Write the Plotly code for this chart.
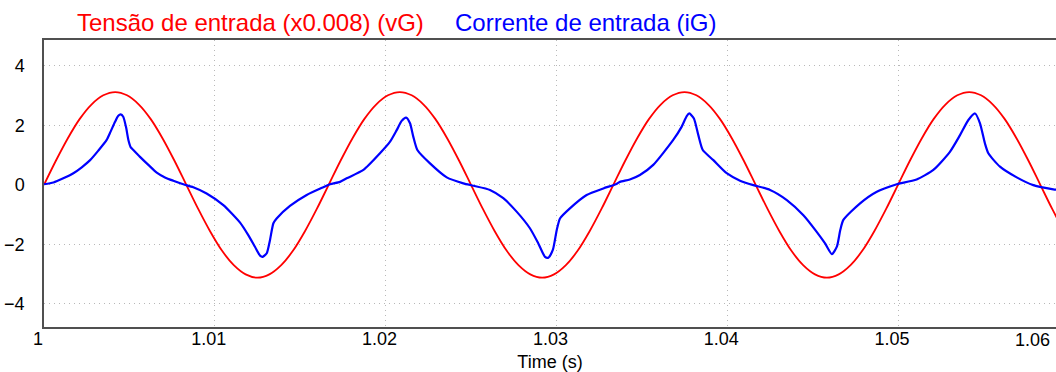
import plotly.graph_objects as go

# ---------------- data ----------------
# Input voltage scaled by 0.008 (vG), sampled every 1/1440 s (15 electrical degrees at 60 Hz)
red_step_ms = 1000.0 / 1440.0
red_v = [
    0.00, 0.81, 1.56, 2.21, 2.70, 3.01, 3.12, 3.01, 2.70, 2.21, 1.56, 0.81,
    0.00, -0.81, -1.56, -2.21, -2.70, -3.01, -3.12, -3.01, -2.70, -2.21, -1.56, -0.81,
    0.00, 0.81, 1.56, 2.21, 2.70, 3.01, 3.12, 3.01, 2.70, 2.21, 1.56, 0.81,
    0.00, -0.81, -1.56, -2.21, -2.70, -3.01, -3.12, -3.01, -2.70, -2.21, -1.56, -0.81,
    0.00, 0.81, 1.56, 2.21, 2.70, 3.01, 3.12, 3.01, 2.70, 2.21, 1.56, 0.81,
    0.00, -0.81, -1.56, -2.21, -2.70, -3.01, -3.12, -3.01, -2.70, -2.21, -1.56, -0.81,
    0.00, 0.81, 1.56, 2.21, 2.70, 3.01, 3.12, 3.01, 2.70, 2.21, 1.56, 0.81,
    0.00, -0.81, -1.56,
]
red_t = [1.0 + i * red_step_ms / 1000.0 for i in range(len(red_v))]

# Input current (iG): time after 1 s in milliseconds, and value
blue_t_ms = [
    0.00, 0.55, 1.13, 1.72, 2.21, 2.70, 3.18, 3.67, 3.90, 4.16, 4.35, 4.49, 4.64, 4.80,
    4.94, 5.08, 5.23, 5.62, 6.11, 6.60, 7.08, 7.57, 8.16,
    8.74, 9.52, 10.50, 11.48, 11.96, 12.35, 12.65, 12.80, 13.04, 13.23, 13.43, 13.62,
    14.40, 15.38, 16.35,
    16.75, 17.33, 17.72, 18.70, 19.67, 20.26, 20.65, 20.94, 21.20, 21.43, 21.62, 21.86,
    22.60, 23.58, 24.55,
    25.14, 26.11, 26.89, 27.67, 28.45, 28.94, 29.33, 29.53, 29.79, 30.02, 30.21,
    30.79, 31.77, 32.75,
    33.52, 33.72, 34.30, 34.89, 35.67, 36.84, 37.33, 37.63, 37.78, 38.05, 38.31, 38.57,
    39.19, 39.97, 40.75, 41.53,
    42.51, 43.49, 44.46, 45.24, 45.73, 46.13, 46.42, 46.62, 46.80, 47.78, 48.76, 49.93,
    50.12, 51.09, 52.07, 53.04, 53.63, 54.12, 54.51, 54.80, 55.09, 55.29, 55.97, 56.95,
    57.92, 59.09, 59.40,
]
blue_v = [
    0.02, 0.08, 0.22, 0.39, 0.59, 0.83, 1.15, 1.51, 1.79, 2.12, 2.32, 2.37, 2.29, 1.95,
    1.51, 1.26, 1.17, 0.94, 0.67, 0.41, 0.25, 0.14, 0.02,
    -0.08, -0.29, -0.68, -1.27, -1.69, -2.08, -2.38, -2.42, -2.30, -1.86, -1.29, -1.13,
    -0.71, -0.34, -0.08,
    0.02, 0.10, 0.22, 0.50, 1.06, 1.45, 1.84, 2.15, 2.26, 2.07, 1.62, 1.17,
    0.72, 0.25, 0.05,
    -0.03, -0.17, -0.45, -0.90, -1.46, -1.97, -2.42, -2.45, -2.19, -1.52, -1.13,
    -0.79, -0.34, -0.12,
    0.03, 0.10, 0.18, 0.33, 0.67, 1.51, 1.95, 2.31, 2.40, 2.23, 1.67, 1.17,
    0.83, 0.39, 0.14, -0.01,
    -0.17, -0.51, -1.02, -1.58, -1.97, -2.33, -2.08, -1.52, -1.18, -0.62, -0.23, 0.02,
    0.05, 0.18, 0.50, 1.11, 1.67, 2.18, 2.40, 2.07, 1.39, 1.06, 0.61, 0.25,
    -0.01, -0.15, -0.17,
]
blue_t = [1.0 + m / 1000.0 for m in blue_t_ms]

x_ticks = [1, 1.01, 1.02, 1.03, 1.04, 1.05]
x_tick_text = ["1", "1.01", "1.02", "1.03", "1.04", "1.05"]
y_ticks = [-4, -2, 0, 2, 4]
x_range = [1.0, 1.05925]
y_range = [-4.78, 4.87]

label_v = "Tensão de entrada (x0.008) (vG)"
label_i = "Corrente de entrada (iG)"
x_title = "Time (s)"
last_tick_label = "1.06"

# ---------------- figure ----------------
FONT = "Liberation Sans, Arial, sans-serif"
fig = go.Figure()
fig.add_trace(go.Scatter(x=red_t, y=red_v, mode="lines", name=label_v,
                         line=dict(color="#ff0000", width=1.8, shape="spline", smoothing=1.0)))
fig.add_trace(go.Scatter(x=blue_t, y=blue_v, mode="lines", name=label_i,
                         line=dict(color="#0000ff", width=2.2, shape="spline", smoothing=0.6)))

fig.update_layout(
    width=1056, height=372,
    margin=dict(l=44, r=0, t=40, b=45, pad=0),
    paper_bgcolor="white", plot_bgcolor="white",
    showlegend=False,
    font=dict(family=FONT, size=18, color="#000000"),
    annotations=[
        dict(text=label_v, xref="paper", yref="paper", x=0.0306, y=1.062,
             xanchor="left", yanchor="middle", showarrow=False,
             font=dict(family=FONT, size=24, color="#ff0000")),
        dict(text=label_i, xref="paper", yref="paper", x=0.4041, y=1.062,
             xanchor="left", yanchor="middle", showarrow=False,
             font=dict(family=FONT, size=24, color="#0000ff")),
        dict(text=last_tick_label, xref="paper", yref="paper", x=1.0, y=0,
             xanchor="right", yanchor="top", xshift=-4, yshift=-1, showarrow=False,
             font=dict(family=FONT, size=18, color="#000000")),
    ],
)
fig.update_xaxes(
    range=x_range, tickvals=x_ticks, ticktext=x_tick_text,
    showgrid=True, gridcolor="#b8b8b8", gridwidth=1, griddash="1px,4px",
    zeroline=False, showline=True, linecolor="#505050", linewidth=1.5, mirror=True,
    ticks="", ticklabelstandoff=-5, ticklabelshift=-6,
    title=dict(text=x_title, standoff=10, font=dict(family=FONT, size=18)),
)
fig.update_yaxes(
    range=y_range, tickvals=y_ticks,
    showgrid=True, gridcolor="#b8b8b8", gridwidth=1, griddash="1px,4px",
    zeroline=False, showline=True, linecolor="#505050", linewidth=1.5, mirror=False,
    ticks="outside", ticklen=14, tickcolor="rgba(0,0,0,0)",
)

fig.write_html("out.html")
